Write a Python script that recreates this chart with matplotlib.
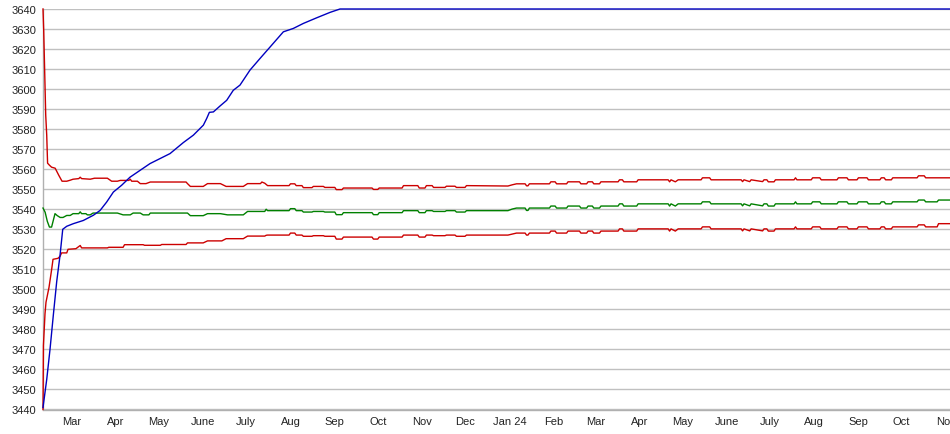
import matplotlib
matplotlib.use('Agg')
import matplotlib.pyplot as plt
import numpy as np
import pandas as pd

# ---------------- data ----------------
start_date = pd.Timestamp('2023-02-09')
end_day = 634  # days after start_date shown on the axis

# blue series (days after start, value)
blue_days = [0, 2.6, 4.9, 7.2, 9.6, 11.9, 13.8, 16.6, 21.2, 28.2, 35.2, 39.9, 44.5, 49.2,
             55, 60.8, 67.8, 74.8, 81.8, 88.8, 98.1, 105.1, 112.1, 114.4, 116.3, 119.1,
             123.8, 128.4, 133, 137.7, 144.7, 151.7, 158.7, 168, 175, 182, 191.3, 200.6,
             207.6, 634]
blue_vals = [3441, 3455, 3470, 3487, 3504, 3517, 3530, 3531.5, 3532.8, 3534.4, 3537, 3539.4,
             3543.6, 3548.6, 3552, 3556, 3559.4, 3562.8, 3565.3, 3567.8, 3573.3, 3577, 3582,
             3585.3, 3588.4, 3588.6, 3591.6, 3594.4, 3599.4, 3602, 3609.5, 3615.3, 3621,
             3628.6, 3630.3, 3632.8, 3635.6, 3638.3, 3640, 3640]

# upper red, early part
hi_early_days = [0, 0.5, 1.2, 1.9, 2.6, 3.2, 4.5, 6, 8.5, 11, 13.3, 16.6, 19, 21, 25, 26, 27,
                 33, 36, 45, 48, 52, 54, 60, 61, 62, 66, 68, 72, 75, 100, 101, 103, 112, 115,
                 124, 128, 140, 143, 152, 153, 155]
hi_early_vals = [3640, 3629, 3607, 3587, 3577, 3563, 3562, 3561, 3560.5, 3557, 3554, 3554,
                 3554.5, 3555, 3555.3, 3556, 3555.3, 3555, 3555.5, 3555.5, 3554, 3554, 3554.4,
                 3554.4, 3555, 3554, 3554, 3552.8, 3552.8, 3553.6, 3553.6, 3552.8, 3551.4,
                 3551.4, 3552.8, 3552.8, 3551.4, 3551.4, 3552.8, 3552.8, 3553.6, 3553]

# green, early part
mid_early_days = [0, 1.5, 3, 4.5, 6, 8.4, 10, 12, 14, 16.6, 19, 21, 25, 26, 27, 30, 31, 33,
                  35, 52, 56, 61, 63, 68, 70, 74, 75, 101, 103, 112, 115, 124, 129, 140, 143,
                  155, 156]
mid_early_vals = [3540.6, 3538.5, 3534, 3531.1, 3531.1, 3537.8, 3536.8, 3535.9, 3535.9,
                  3536.9, 3536.9, 3537.8, 3537.8, 3538.7, 3537.8, 3537.8, 3537.2, 3537.2,
                  3538.1, 3538.1, 3537.2, 3537.2, 3538.1, 3538.1, 3537.2, 3537.2, 3538.1,
                  3538.1, 3536.8, 3536.8, 3537.8, 3537.8, 3537.2, 3537.2, 3538.9, 3538.9,
                  3540.0]

# lower red, early part
lo_early_days = [0, 0.3, 1.4, 2.1, 4.2, 6.1, 7, 10.5, 11.9, 13, 16.6, 17.5, 23, 26, 27, 45,
                 46, 56, 57, 70, 71, 82, 83, 100, 101, 112, 115, 125, 128, 140, 143, 155, 156]
lo_early_vals = [3440, 3472, 3487.8, 3493.6, 3501, 3510.2, 3515, 3515.5, 3516.5, 3518.2,
                 3518.2, 3520, 3520.3, 3521.9, 3520.7, 3520.7, 3521, 3521, 3522.3, 3522.3,
                 3522, 3522, 3522.4, 3522.4, 3523.2, 3523.2, 3524.2, 3524.2, 3525.3, 3525.3,
                 3526.6, 3526.6, 3527]

# late part (shared day grid) for the three parallel series
late_days = [157, 172, 173, 176, 177, 181, 182, 188, 189, 196, 197, 204, 205, 209, 210, 230,
             231, 234, 235, 251, 252, 262, 263, 267, 268, 272, 273, 281, 282, 288, 289, 295,
             296, 325, 328, 331, 337, 338, 339, 340, 354, 355, 358, 359, 366, 367, 375, 376,
             380, 381, 384, 385, 389, 390, 402, 403, 405, 406, 415, 416, 437, 438, 439, 442,
             444, 460, 461, 466, 467, 488, 489, 490, 494, 495, 503, 504, 506, 507, 511, 512,
             525, 526, 527, 537, 538, 543, 544, 555, 556, 562, 563, 569, 570, 576, 577, 585,
             586, 588, 589, 593, 594, 611, 612, 616, 617, 625, 626, 634]
hi_late = [3551.8, 3551.8, 3552.7, 3552.7, 3551.8, 3551.8, 3550.8, 3550.8, 3551.4, 3551.4,
           3550.9, 3550.9, 3549.8, 3549.8, 3550.6, 3550.6, 3549.9, 3549.9, 3550.6, 3550.6,
           3551.8, 3551.8, 3550.6, 3550.6, 3551.8, 3551.8, 3550.9, 3550.9, 3551.5, 3551.5,
           3550.9, 3550.9, 3551.8, 3551.6, 3552.2, 3552.7, 3552.7, 3551.7, 3551.7, 3552.7,
           3552.7, 3553.7, 3553.7, 3552.7, 3552.7, 3553.7, 3553.7, 3552.7, 3552.7, 3553.7,
           3553.7, 3552.7, 3552.7, 3553.7, 3553.7, 3554.7, 3554.7, 3553.7, 3553.7, 3554.7,
           3554.7, 3553.7, 3554.7, 3553.7, 3554.7, 3554.7, 3555.7, 3555.7, 3554.7, 3554.7,
           3553.8, 3554.7, 3553.8, 3554.7, 3553.8, 3554.7, 3554.7, 3553.7, 3553.7, 3554.7,
           3554.7, 3555.7, 3554.7, 3554.7, 3555.7, 3555.7, 3554.7, 3554.7, 3555.7, 3555.7,
           3554.7, 3554.7, 3555.7, 3555.7, 3554.7, 3554.7, 3555.7, 3555.7, 3554.7, 3554.7,
           3555.7, 3555.7, 3556.7, 3556.7, 3555.7, 3555.7, 3555.7, 3555.7]
mid_late = [3539.3, 3539.3, 3540.3, 3540.3, 3539.3, 3539.3, 3538.6, 3538.6, 3538.9, 3538.9,
            3538.6, 3538.6, 3537.3, 3537.3, 3538.3, 3538.3, 3537.3, 3537.3, 3538.3, 3538.3,
            3539.3, 3539.3, 3538.3, 3538.3, 3539.3, 3539.3, 3538.9, 3538.9, 3539.3, 3539.3,
            3538.6, 3538.6, 3539.3, 3539.3, 3540.1, 3540.6, 3540.6, 3539.4, 3539.4, 3540.6,
            3540.6, 3541.6, 3541.6, 3540.6, 3540.6, 3541.6, 3541.6, 3540.6, 3540.6, 3541.6,
            3541.6, 3540.6, 3540.6, 3541.6, 3541.6, 3542.7, 3542.7, 3541.6, 3541.6, 3542.7,
            3542.7, 3541.6, 3542.7, 3541.6, 3542.7, 3542.7, 3543.7, 3543.7, 3542.7, 3542.7,
            3541.7, 3542.7, 3541.7, 3542.7, 3541.7, 3542.7, 3542.7, 3541.6, 3541.6, 3542.7,
            3542.7, 3543.7, 3542.7, 3542.7, 3543.7, 3543.7, 3542.7, 3542.7, 3543.7, 3543.7,
            3542.7, 3542.7, 3543.7, 3543.7, 3542.7, 3542.7, 3543.7, 3543.7, 3542.7, 3542.7,
            3543.7, 3543.7, 3544.6, 3544.6, 3543.7, 3543.7, 3544.6, 3544.6]
lo_late = [3527.1, 3527.1, 3528.1, 3528.1, 3527.1, 3527.1, 3526.5, 3526.5, 3526.8, 3526.8,
           3526.5, 3526.5, 3525.1, 3525.1, 3526.1, 3526.1, 3525.1, 3525.1, 3526.1, 3526.1,
           3527.1, 3527.1, 3526.1, 3526.1, 3527.1, 3527.1, 3526.8, 3526.8, 3527.1, 3527.1,
           3526.5, 3526.5, 3527.1, 3527.1, 3527.6, 3528.1, 3528.1, 3527.1, 3527.1, 3528.1,
           3528.1, 3529.1, 3529.1, 3528.1, 3528.1, 3529.1, 3529.1, 3528.1, 3528.1, 3529.1,
           3529.1, 3528.1, 3528.1, 3529.1, 3529.1, 3530.2, 3530.2, 3529.1, 3529.1, 3530.2,
           3530.2, 3529.1, 3530.2, 3529.1, 3530.2, 3530.2, 3531.2, 3531.2, 3530.2, 3530.2,
           3529.2, 3530.2, 3529.2, 3530.2, 3529.2, 3530.2, 3530.2, 3529.1, 3529.1, 3530.2,
           3530.2, 3531.2, 3530.2, 3530.2, 3531.2, 3531.2, 3530.2, 3530.2, 3531.2, 3531.2,
           3530.2, 3530.2, 3531.2, 3531.2, 3530.2, 3530.2, 3531.2, 3531.2, 3530.2, 3530.2,
           3531.2, 3531.2, 3532.2, 3532.2, 3531.2, 3531.2, 3532.8, 3532.8]

month_labels = ['Mar', 'Apr', 'May', 'June', 'July', 'Aug', 'Sep', 'Oct', 'Nov', 'Dec',
                'Jan 24', 'Feb', 'Mar', 'Apr', 'May', 'June', 'July', 'Aug', 'Sep', 'Oct', 'Nov']
first_tick = '2023-03-01'
y_min, y_max, y_step = 3440, 3640, 10

# ---------------- plot ----------------
plt.rcParams['font.family'] = ['Liberation Sans', 'DejaVu Sans']


def to_dates(days):
    return start_date + pd.to_timedelta(np.asarray(days, dtype=float), unit='D')


fig = plt.figure(figsize=(9.5, 4.35), dpi=100)
ax = fig.add_axes([43 / 950, 24.5 / 435, 907 / 950, 400.5 / 435])

red = '#cc0000'
green = '#008000'
blue = '#0000c0'
lw = 1.0

ax.plot(to_dates(lo_early_days + late_days), lo_early_vals + lo_late,
        color=red, lw=lw, clip_on=False, zorder=3)
ax.plot(to_dates(mid_early_days + late_days), mid_early_vals + mid_late,
        color=green, lw=lw, clip_on=False, zorder=3)
ax.plot(to_dates(hi_early_days + late_days), hi_early_vals + hi_late,
        color=red, lw=lw, clip_on=False, zorder=3)
ax.plot(to_dates(blue_days), blue_vals, color=blue, lw=lw, clip_on=False, zorder=4)

ax.set_xlim(start_date, start_date + pd.Timedelta(days=end_day))
ax.set_ylim(y_min, y_max)

ax.set_yticks(np.arange(y_min, y_max + 1, y_step))
ax.grid(axis='y', color='#c0c0c0', lw=1.0, zorder=0)
ax.grid(axis='x', visible=False)

ticks = pd.date_range(first_tick, periods=len(month_labels), freq='MS')
ax.set_xticks(ticks)
ax.set_xticklabels(month_labels)

for s in ['top', 'right']:
    ax.spines[s].set_visible(False)
for s in ['left', 'bottom']:
    ax.spines[s].set_color('#b0b0b0')
    ax.spines[s].set_linewidth(1.0)

ax.tick_params(axis='both', length=0, labelsize=8, colors='#222222')
ax.tick_params(axis='y', pad=5)
ax.tick_params(axis='x', pad=5)

fig.savefig('out.png', dpi=100)
